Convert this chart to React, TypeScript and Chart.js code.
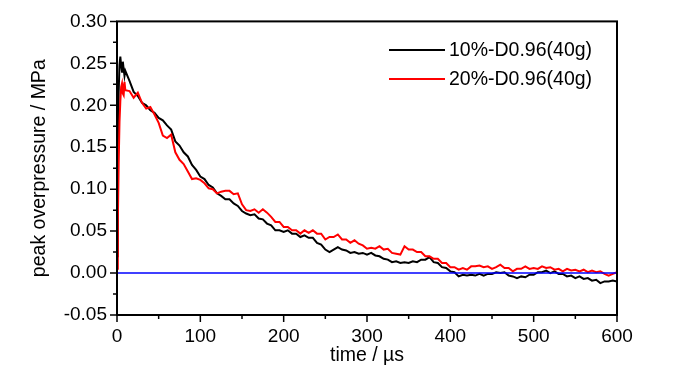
import React, { useEffect, useRef } from "react";
import { Chart, registerables } from "chart.js";

Chart.register(...registerables);

const times = [0, 1, 2, 3, 4, 5, 6, 7, 8, 9, 10, 15, 20, 25, 30, 35, 40, 45, 50, 55, 60, 65, 70, 75, 80, 85, 90, 95, 100, 105, 110, 115, 120, 125, 130, 135, 140, 145, 150, 155, 160, 165, 170, 175, 180, 185, 190, 195, 200, 205, 210, 215, 220, 225, 230, 235, 240, 245, 250, 255, 260, 265, 270, 275, 280, 285, 290, 295, 300, 305, 310, 315, 320, 325, 330, 335, 340, 345, 350, 355, 360, 365, 370, 375, 380, 385, 390, 395, 400, 405, 410, 415, 420, 425, 430, 435, 440, 445, 450, 455, 460, 465, 470, 475, 480, 485, 490, 495, 500, 505, 510, 515, 520, 525, 530, 535, 540, 545, 550, 555, 560, 565, 570, 575, 580, 585, 590, 595, 600];

const series10 = [0.02, 0.12, 0.215, 0.248, 0.258, 0.247, 0.24, 0.252, 0.243, 0.235, 0.241, 0.229, 0.216, 0.211, 0.203, 0.2, 0.194, 0.191, 0.185, 0.182, 0.176, 0.171, 0.157, 0.152, 0.144, 0.139, 0.129, 0.123, 0.115, 0.112, 0.105, 0.102, 0.095, 0.092, 0.088, 0.088, 0.083, 0.08, 0.074, 0.071, 0.069, 0.07, 0.065, 0.064, 0.059, 0.057, 0.051, 0.051, 0.049, 0.051, 0.047, 0.047, 0.043, 0.045, 0.042, 0.042, 0.036, 0.034, 0.028, 0.025, 0.028, 0.031, 0.028, 0.027, 0.024, 0.025, 0.023, 0.024, 0.022, 0.024, 0.021, 0.02, 0.017, 0.016, 0.013, 0.014, 0.012, 0.013, 0.012, 0.014, 0.013, 0.016, 0.016, 0.019, 0.013, 0.012, 0.007, 0.006, 0.002, 0.001, -0.004, -0.002, -0.003, -0.002, -0.003, -0.001, -0.003, -0.001, -0.001, 0.001, 0.0, 0.001, -0.003, -0.004, -0.006, -0.004, -0.005, -0.002, -0.002, 0.001, 0.001, 0.003, 0.0, 0.002, -0.001, -0.001, -0.004, -0.003, -0.006, -0.004, -0.007, -0.006, -0.009, -0.008, -0.012, -0.01, -0.01, -0.009, -0.01];

const series20 = [0.005, 0.06, 0.13, 0.18, 0.205, 0.222, 0.226, 0.214, 0.212, 0.228, 0.218, 0.217, 0.209, 0.215, 0.203, 0.196, 0.198, 0.189, 0.179, 0.164, 0.161, 0.165, 0.144, 0.135, 0.13, 0.121, 0.112, 0.113, 0.111, 0.107, 0.101, 0.1, 0.095, 0.097, 0.098, 0.098, 0.094, 0.095, 0.082, 0.075, 0.074, 0.076, 0.072, 0.076, 0.072, 0.067, 0.061, 0.061, 0.055, 0.055, 0.051, 0.051, 0.047, 0.051, 0.048, 0.051, 0.047, 0.047, 0.04, 0.043, 0.043, 0.046, 0.04, 0.04, 0.036, 0.039, 0.035, 0.033, 0.029, 0.03, 0.029, 0.032, 0.028, 0.029, 0.024, 0.023, 0.022, 0.032, 0.028, 0.028, 0.025, 0.025, 0.02, 0.02, 0.017, 0.017, 0.012, 0.012, 0.007, 0.007, 0.004, 0.006, 0.004, 0.008, 0.008, 0.009, 0.007, 0.008, 0.005, 0.007, 0.01, 0.006, 0.006, 0.002, 0.005, 0.005, 0.008, 0.005, 0.006, 0.005, 0.008, 0.006, 0.007, 0.004, 0.005, 0.002, 0.005, 0.003, 0.004, 0.002, 0.004, 0.001, 0.003, 0.001, 0.002, -0.001, -0.003, -0.001, 0.001];

const zeroX = [0, 600];
const zeroY = [0, 0];

const seriesLabels = ["10%-D0.96(40g)", "20%-D0.96(40g)"];
const xTitle = "time / µs";
const yTitle = "peak overpressure / MPa";

const FONT = "'Liberation Sans', Arial, sans-serif";

const framePlugin = {
  id: "frameTicks",
  afterDraw(chart: any) {
    const { ctx, chartArea } = chart;
    const { left, right, top, bottom } = chartArea;
    const xs = chart.scales.x;
    const ys = chart.scales.y;
    ctx.save();
    ctx.strokeStyle = "#000";
    ctx.lineWidth = 2;
    ctx.strokeRect(left, top, right - left, bottom - top);
    ctx.lineWidth = 1.5;
    ctx.beginPath();
    for (let v = 0; v <= 600; v += 50) {
      const px = xs.getPixelForValue(v);
      const len = v % 100 === 0 ? 7 : 4;
      ctx.moveTo(px, bottom);
      ctx.lineTo(px, bottom + len);
    }
    for (let i = 0; i <= 14; i++) {
      const v = -0.05 + i * 0.025;
      const py = ys.getPixelForValue(v);
      const len = i % 2 === 0 ? 7 : 4;
      ctx.moveTo(left, py);
      ctx.lineTo(left - len, py);
    }
    ctx.stroke();

    // legend
    const ds = chart.data.datasets;
    const rows = [50, 79];
    ctx.font = `19.5px ${FONT}`;
    ctx.textBaseline = "middle";
    ctx.textAlign = "left";
    for (let i = 0; i < 2; i++) {
      ctx.strokeStyle = ds[i].borderColor;
      ctx.lineWidth = 1.8;
      ctx.beginPath();
      ctx.moveTo(389, rows[i]);
      ctx.lineTo(445, rows[i]);
      ctx.stroke();
      ctx.fillStyle = "#000";
      ctx.fillText(ds[i].label, 449, rows[i] + 1);
    }
    ctx.restore();
  },
};

export default function App() {
  const ref = useRef<HTMLCanvasElement | null>(null);
  useEffect(() => {
    if (!ref.current) return;
    const chart = new Chart(ref.current, {
      type: "line",
      data: {
        datasets: [
          {
            label: seriesLabels[0],
            data: times.map((t, i) => ({ x: t, y: series10[i] })),
            borderColor: "#000000",
            borderWidth: 2,
            pointRadius: 0,
            tension: 0,
            order: 2,
          },
          {
            label: seriesLabels[1],
            data: times.map((t, i) => ({ x: t, y: series20[i] })),
            borderColor: "#ff0000",
            borderWidth: 2,
            pointRadius: 0,
            tension: 0,
            order: 1,
          },
          {
            label: "zero",
            data: zeroX.map((t, i) => ({ x: t, y: zeroY[i] })),
            borderColor: "#0000ff",
            borderWidth: 1.5,
            pointRadius: 0,
            order: 0,
          },
        ],
      },
      options: {
        animation: false,
        responsive: false,
        maintainAspectRatio: false,
        layout: { padding: { top: 17, right: 83, left: 0, bottom: 0 } },
        plugins: { legend: { display: false }, tooltip: { enabled: false } },
        scales: {
          x: {
            type: "linear",
            min: 0,
            max: 600,
            grid: { display: false, drawTicks: false },
            border: { display: false },
            ticks: {
              stepSize: 100,
              padding: 10,
              color: "#000",
              font: { family: FONT, size: 19 },
              maxRotation: 0,
            },
            title: {
              display: true,
              text: xTitle,
              color: "#000",
              font: { family: FONT, size: 19.5 },
              padding: { top: 0, bottom: 7 },
            },
            afterFit: (s: any) => {
              s.height = 59;
            },
          },
          y: {
            type: "linear",
            min: -0.05,
            max: 0.3,
            grid: { display: false, drawTicks: false },
            border: { display: false },
            ticks: {
              stepSize: 0.05,
              padding: 10,
              color: "#000",
              font: { family: FONT, size: 19 },
              callback: (v: any) => {
                const n = Number(v);
                return (Math.abs(n) < 1e-9 ? 0 : n).toFixed(2);
              },
            },
            title: {
              display: true,
              text: yTitle,
              color: "#000",
              font: { family: FONT, size: 19.5 },
              padding: { top: 28, bottom: 0 },
            },
            afterFit: (s: any) => {
              s.width = 117;
            },
          },
        },
      },
      plugins: [framePlugin],
    });
    return () => chart.destroy();
  }, []);
  return (
    <div style={{ position: "absolute", left: 0, top: 0, width: 700, height: 374, background: "#fff" }}>
      <canvas ref={ref} width={700} height={374} style={{ width: 700, height: 374 }} />
    </div>
  );
}
